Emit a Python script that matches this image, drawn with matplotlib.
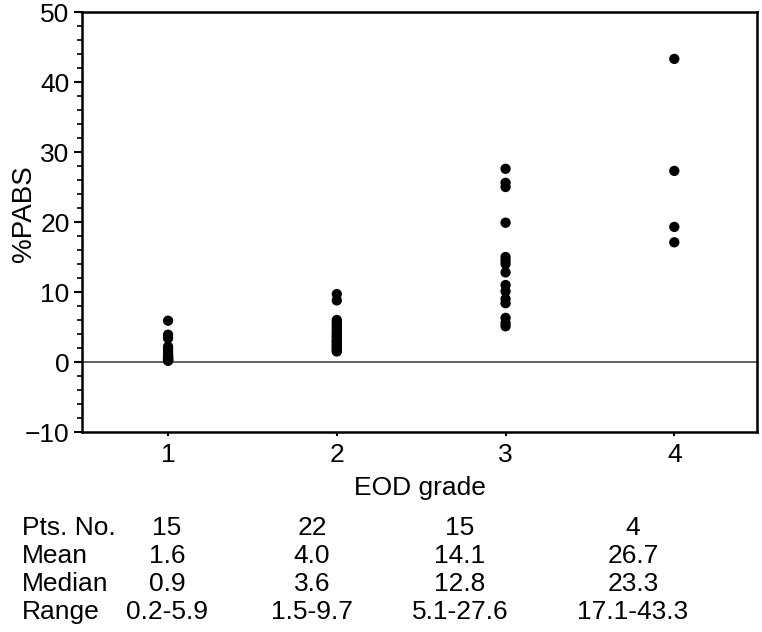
import matplotlib.pyplot as plt
from matplotlib.ticker import MultipleLocator

plt.rcParams['font.family'] = ['Liberation Sans', 'DejaVu Sans']

# %PABS values, per EOD grade
grade1 = [5.9, 3.9, 3.4, 2.2, 1.8, 1.4, 1.1, 0.9, 0.8, 0.6, 0.5, 0.4, 0.3, 0.2, 0.2]
grade2 = [9.7, 8.8, 6.0, 5.7, 5.4, 5.1, 4.8, 4.5, 4.2, 3.9, 3.7,
          3.5, 3.2, 3.0, 2.8, 2.6, 2.4, 2.2, 2.0, 1.8, 1.6, 1.5]
grade3 = [27.6, 25.6, 25.0, 19.9, 15.0, 14.5, 14.0, 12.8, 11.0, 10.1,
          9.0, 8.4, 6.3, 5.6, 5.1]
grade4 = [43.3, 27.3, 19.3, 17.1]
grades = [1, 2, 3, 4]

# summary table under the plot
row_names = ["Pts. No.", "Mean", "Median", "Range"]
pts_no = ["15", "22", "15", "4"]
means = ["1.6", "4.0", "14.1", "26.7"]
medians = ["0.9", "3.6", "12.8", "23.3"]
ranges = ["0.2-5.9", "1.5-9.7", "5.1-27.6", "17.1-43.3"]

W, H = 762, 632
fig = plt.figure(figsize=(W / 100, H / 100), dpi=100)
ax = fig.add_axes([82 / W, 1 - 432 / H, (757 - 82) / W, (432 - 12) / H])

for g, vals in zip(grades, [grade1, grade2, grade3, grade4]):
    ax.scatter([g] * len(vals), vals, s=55, c='black', edgecolors='none', zorder=3)

ax.axhline(0, color='#555555', lw=1.3, zorder=1)

ax.set_xlim(0.49, 4.49)
ax.set_ylim(-10, 50)
ax.set_xticks(grades)
ax.yaxis.set_major_locator(MultipleLocator(10))
ax.yaxis.set_minor_locator(MultipleLocator(2))
ax.tick_params(axis='y', which='major', direction='out', length=6, width=1.5, labelsize=19, pad=3)
ax.tick_params(axis='y', which='minor', direction='out', length=3.5, width=1.2)
ax.tick_params(axis='x', direction='out', length=3, width=1.5, labelsize=19, pad=5)
for sp in ax.spines.values():
    sp.set_linewidth(1.8)

ax.set_xlabel("EOD grade", fontsize=19)
ax.set_ylabel("%PABS", fontsize=20)
ax.xaxis.set_label_coords(0.5, -0.105)
ax.yaxis.set_label_coords(-0.066, 0.52)

# table text
row_y = [528, 556, 584, 612]
col_x = [167, 312, 460, 633]
for name, y, vals in zip(row_names, row_y, [pts_no, means, medians, ranges]):
    fig.text(22 / W, 1 - y / H, name, fontsize=19, va='center', ha='left')
    for x, v in zip(col_x, vals):
        fig.text(x / W, 1 - y / H, v, fontsize=19, va='center', ha='center')

fig.savefig("out.png", dpi=100)
